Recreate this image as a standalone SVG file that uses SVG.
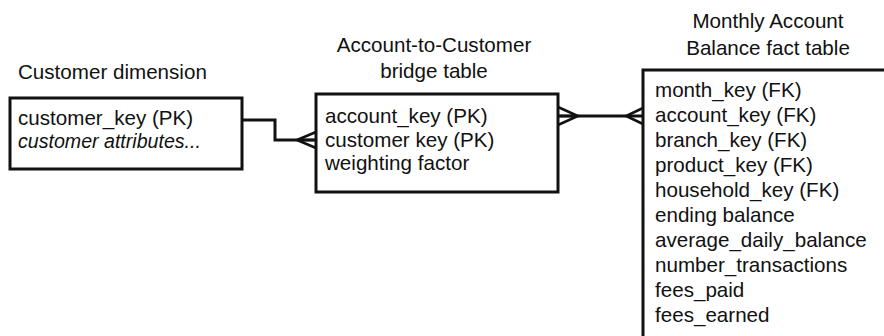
<svg xmlns="http://www.w3.org/2000/svg" width="884" height="336" viewBox="0 0 884 336">
<style>
text{font-family:"Liberation Sans",Arial,Helvetica,sans-serif;font-size:20.6px;fill:#111}
.ttl{text-anchor:middle}
.it{font-style:italic;font-size:19.6px}
.box{fill:#fff;stroke:#111;stroke-width:3}
.ln{fill:none;stroke:#111;stroke-width:3}
.ft{fill:none;stroke:#111;stroke-width:2.5}
</style>
<rect width="884" height="336" fill="#fff"/>
<g id="connectors">
<polyline class="ln" points="242,120 275,120 275,140 316,140"/>
<path class="ft" d="M297,140 L316,132 M297,140 L316,140 M297,140 L316,148"/>
<line class="ln" x1="558" y1="116" x2="643" y2="116"/>
<path class="ft" d="M558,107 L578,116 L558,125 M558,116 L578,116"/>
<path class="ft" d="M643,108 L626,116 L643,124"/>
</g>
<g id="customer_dimension">
<text x="18" y="79">Customer dimension</text>
<rect class="box" x="10" y="98" width="232" height="71"/>
<text x="18" y="125">customer_key (PK)</text>
<text class="it" x="18" y="148">customer attributes...</text>
</g>
<g id="bridge_table">
<text class="ttl" x="434" y="52">Account-to-Customer</text>
<text class="ttl" x="434" y="78">bridge table</text>
<rect class="box" x="316" y="94" width="242" height="98"/>
<text x="325" y="123">account_key (PK)</text>
<text x="325" y="147">customer key (PK)</text>
<text x="325" y="170">weighting factor</text>
</g>
<g id="fact_table">
<text class="ttl" x="768" y="28">Monthly Account</text>
<text class="ttl" x="768" y="55">Balance fact table</text>
<path class="ln" d="M643,340 L643,70 L890,70"/>
<text x="655" y="97">month_key (FK)</text>
<text x="655" y="122">account_key (FK)</text>
<text x="655" y="147">branch_key (FK)</text>
<text x="655" y="172">product_key (FK)</text>
<text x="655" y="197">household_key (FK)</text>
<text x="655" y="222">ending balance</text>
<text x="655" y="247">average_daily_balance</text>
<text x="655" y="272">number_transactions</text>
<text x="655" y="297">fees_paid</text>
<text x="655" y="322">fees_earned</text>
</g>
</svg>
